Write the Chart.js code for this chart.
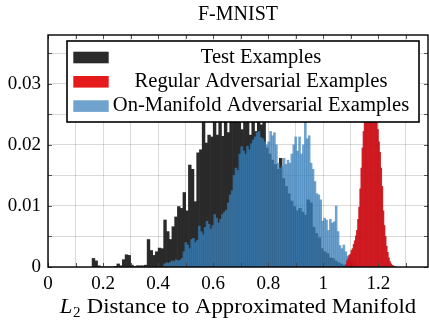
<!DOCTYPE html>
<html>
<head>
<meta charset="utf-8">
<script src="https://cdn.jsdelivr.net/npm/chart.js@4.4.0/dist/chart.umd.min.js"></script>
<style>
  html, body { margin: 0; padding: 0; background: #fff; }
  canvas { display: block; }
</style>
</head>
<body>
<canvas id="chart" width="429" height="325"></canvas>
<script>
// ---------- data ----------
const seriesLabels = ["Test Examples", "Regular Adversarial Examples", "On-Manifold Adversarial Examples"];

// test examples, bins of 0.01 starting at 0.16
const testStart = 0.16;
const testBin = 0.01;
const testDensity = [
  0.0014, 0.0010, 0.0002, 0, 0, 0, 0, 0, 0.0001, 0.0005,
  0.0002, 0.0012, 0.0020, 0.0019, 0.0003, 0.0001, 0.0002, 0.0002, 0.0002, 0.0003,
  0.0045, 0.0027, 0.0019, 0.0025, 0.0031, 0.0030, 0.0077, 0.0058, 0.0045, 0.0066,
  0.0082, 0.0099, 0.0096, 0.0122, 0.0092, 0.0167, 0.0160, 0.0107, 0.0187, 0.0192,
  0.0255, 0.0203, 0.0216, 0.0213, 0.0262, 0.0216, 0.0285, 0.0214, 0.0275, 0.0220,
  0.0295, 0.0335, 0.0320, 0.0350, 0.0225, 0.0300, 0.0310, 0.0216, 0.0290, 0.0222,
  0.0240, 0.0233, 0.0250, 0.0195, 0.0185, 0.0175, 0.0168, 0.0160, 0.0178, 0.0145,
  0.0132, 0.0120, 0.0108, 0.0099, 0.0092, 0.0096, 0.0090, 0.0085, 0.0110, 0.0105,
  0.0065, 0.0055, 0.0048, 0.0030, 0.0025, 0.0022, 0.0015, 0.0014, 0.0010, 0.0007,
  0.0005, 0.0003
];

// on-manifold adversarial, bins of 0.007 starting at 0.42
const manifoldStart = 0.42;
const manifoldBin = 0.007;
const manifoldDensity = [
  0.0005, 0.0007, 0.0006, 0.0008, 0.0010, 0.0009, 0.0012, 0.0010, 0.0011, 0.0014,
  0.0025, 0.0040, 0.0036, 0.0030, 0.0045, 0.0047, 0.0040, 0.0044, 0.0067, 0.0058,
  0.0053, 0.0065, 0.0075, 0.0070, 0.0062, 0.0068, 0.0086, 0.0080, 0.0072, 0.0078,
  0.0086, 0.0090, 0.0093, 0.0105, 0.0118, 0.0125, 0.0150, 0.0162, 0.0158, 0.0185,
  0.0197, 0.0190, 0.0185, 0.0198, 0.0192, 0.0202, 0.0208, 0.0213, 0.0220, 0.0222,
  0.0212, 0.0210, 0.0205, 0.0200, 0.0205, 0.0222, 0.0215, 0.0220, 0.0200, 0.0170,
  0.0162, 0.0165, 0.0178, 0.0168, 0.0175, 0.0170, 0.0185, 0.0200, 0.0213, 0.0190,
  0.0213, 0.0185, 0.0200, 0.0245, 0.0210, 0.0215, 0.0170, 0.0160, 0.0140, 0.0120,
  0.0118, 0.0110, 0.0075, 0.0080, 0.0077, 0.0060, 0.0078, 0.0072, 0.0074, 0.0100,
  0.0058, 0.0035, 0.0030, 0.0036, 0.0025, 0.0018, 0.0014, 0.0009, 0.0006, 0.0004
];

// regular adversarial, bins of 0.004 starting at 1.08
const regularStart = 1.08;
const regularBin = 0.004;
const regularDensity = [
  0.0004, 0.0010, 0.0014, 0.0019, 0.0021, 0.0027, 0.0030, 0.0037, 0.0043, 0.0051,
  0.0060, 0.0078, 0.0098, 0.0128, 0.0162, 0.0195, 0.0222, 0.0246, 0.0270, 0.0295,
  0.0318, 0.0338, 0.0350, 0.0352, 0.0345, 0.0325, 0.0300, 0.0275, 0.0250, 0.0225,
  0.0205, 0.0188, 0.0162, 0.0132, 0.0092, 0.0068, 0.0050, 0.0034, 0.0024, 0.0015,
  0.0009, 0.0005, 0.0003, 0.0002, 0.0001, 0.0001
];

// axes
const xGridValues = [0, 0.1, 0.2, 0.3, 0.4, 0.5, 0.6, 0.7, 0.8, 0.9, 1, 1.1, 1.2, 1.3];
const xTickLabels = [0, 0.2, 0.4, 0.6, 0.8, 1, 1.2];
const yGridValues = [0, 0.005, 0.01, 0.015, 0.02, 0.025, 0.03, 0.035];
const yTickLabels = [0, 0.01, 0.02, 0.03];
const xMax = 1.38;
const yMax = 0.038;

// ---------- styles ----------
const FONT = "'Liberation Serif', 'Times New Roman', serif";
const gridColor = "rgba(150,150,150,0.35)";
const barColors = ["rgb(42,42,42)", "rgba(204,16,24,0.92)", "rgba(55,126,184,0.72)"];
const legendColors = ["rgb(42,42,42)", "rgb(228,26,28)", "rgba(55,126,184,0.72)"];

function toBins(start, width, values) {
  return values.map((v, i) => ({ x: start + (i + 0.5) * width, y: v }));
}

function labelFor(v, list) {
  const hit = list.find((l) => Math.abs(l - v) < 1e-9);
  return hit === undefined ? "" : String(hit);
}

// ---------- frame, inner ticks, legend, axis title ----------
const decorPlugin = {
  id: "decor",
  afterDraw(chart) {
    const ctx = chart.ctx;
    const area = chart.chartArea;
    const xs = chart.scales.x;
    const ys = chart.scales.y;

    // inner tick marks on all four sides
    ctx.save();
    ctx.strokeStyle = "rgba(70,70,70,0.9)";
    ctx.lineWidth = 1;
    ctx.beginPath();
    xGridValues.forEach((v) => {
      const px = Math.round(xs.getPixelForValue(v)) + 0.5;
      ctx.moveTo(px, area.bottom);
      ctx.lineTo(px, area.bottom - 4);
      ctx.moveTo(px, area.top);
      ctx.lineTo(px, area.top + 4);
    });
    yGridValues.forEach((v) => {
      const py = Math.round(ys.getPixelForValue(v)) + 0.5;
      ctx.moveTo(area.left, py);
      ctx.lineTo(area.left + 4, py);
      ctx.moveTo(area.right, py);
      ctx.lineTo(area.right - 4, py);
    });
    ctx.stroke();

    // frame
    ctx.strokeStyle = "#000";
    ctx.lineWidth = 1.4;
    ctx.strokeRect(area.left, area.top, area.right - area.left, area.bottom - area.top);

    // legend box
    const lx = area.left + 19;
    const ly = area.top + 6;
    const lw = 352;
    const lh = 81;
    ctx.fillStyle = "#fff";
    ctx.fillRect(lx, ly, lw, lh);
    ctx.lineWidth = 1.6;
    ctx.strokeStyle = "#000";
    ctx.strokeRect(lx, ly, lw, lh);

    const textCx = lx + 194;
    chart.data.datasets.forEach((ds, i) => {
      const cy = ly + 16.5 + i * 24.3;
      ctx.fillStyle = legendColors[i];
      ctx.fillRect(lx + 6.3, cy - 5.8, 35.4, 11.6);
      ctx.save();
      ctx.font = "20px " + FONT;
      ctx.fillStyle = "#000";
      ctx.textBaseline = "alphabetic";
      ctx.textAlign = "center";
      ctx.translate(textCx, cy + 5);
      ctx.scale(1.03, 1);
      ctx.fillText(ds.label, 0, 0);
      ctx.restore();
    });

    // x axis title: L_2 Distance to Approximated Manifold
    const rest = " Distance to Approximated Manifold";
    const sx = 1.08;
    const italic = "italic 21px " + FONT;
    const roman = "21px " + FONT;
    const sub = "14px " + FONT;
    ctx.font = italic;
    const wL = ctx.measureText("L").width;
    ctx.font = sub;
    const w2 = ctx.measureText("2").width;
    ctx.font = roman;
    const wR = ctx.measureText(rest).width;
    const total = (wL + w2 + 1 + wR) * sx;
    const cx = (area.left + area.right) / 2;
    ctx.fillStyle = "#000";
    ctx.textBaseline = "alphabetic";
    ctx.textAlign = "left";
    ctx.translate(cx - total / 2, area.bottom + 46);
    ctx.scale(sx, 1);
    ctx.font = italic;
    ctx.fillText("L", 0, 0);
    ctx.font = sub;
    ctx.fillText("2", wL + 0.5, 4);
    ctx.font = roman;
    ctx.fillText(rest, wL + w2 + 1, 0);
    ctx.restore();
  }
};

const hiddenX = { type: "linear", min: 0, max: xMax, offset: false, display: false };

new Chart(document.getElementById("chart"), {
  type: "bar",
  data: {
    datasets: [
      {
        label: seriesLabels[0],
        data: toBins(testStart, testBin, testDensity),
        backgroundColor: barColors[0],
        xAxisID: "x",
        order: 3
      },
      {
        label: seriesLabels[1],
        data: toBins(regularStart, regularBin, regularDensity),
        backgroundColor: barColors[1],
        xAxisID: "x3",
        order: 1
      },
      {
        label: seriesLabels[2],
        data: toBins(manifoldStart, manifoldBin, manifoldDensity),
        backgroundColor: barColors[2],
        xAxisID: "x2",
        order: 2
      }
    ]
  },
  options: {
    responsive: false,
    animation: false,
    devicePixelRatio: 1,
    grouped: false,
    barPercentage: 1,
    categoryPercentage: 1,
    borderWidth: 0,
    layout: { padding: { left: 0, right: 1, top: 0, bottom: 0 } },
    plugins: {
      legend: { display: false },
      tooltip: { enabled: false },
      title: {
        display: true,
        text: "F-MNIST",
        fullSize: false,
        color: "#000",
        font: { family: FONT, size: 20, weight: "normal" },
        padding: { top: 3, bottom: 8 }
      }
    },
    scales: {
      x: {
        type: "linear",
        min: 0,
        max: xMax,
        offset: false,
        z: 1,
        border: { display: false },
        grid: { color: gridColor, drawTicks: false, offset: false },
        afterBuildTicks: (s) => { s.ticks = xGridValues.map((v) => ({ value: v })); },
        afterFit: (s) => { s.height = 58; },
        ticks: {
          autoSkip: false,
          maxRotation: 0,
          padding: 6,
          color: "#000",
          font: { family: FONT, size: 19 },
          callback: (v) => labelFor(v, xTickLabels)
        }
      },
      x2: hiddenX,
      x3: hiddenX,
      y: {
        min: 0,
        max: yMax,
        z: 1,
        border: { display: false },
        grid: { color: gridColor, drawTicks: false },
        afterBuildTicks: (s) => { s.ticks = yGridValues.map((v) => ({ value: v })); },
        afterFit: (s) => { s.width = 48; },
        ticks: {
          autoSkip: false,
          padding: 7,
          color: "#000",
          font: { family: FONT, size: 19 },
          callback: (v) => labelFor(v, yTickLabels)
        }
      }
    }
  },
  plugins: [decorPlugin]
});
</script>
</body>
</html>
